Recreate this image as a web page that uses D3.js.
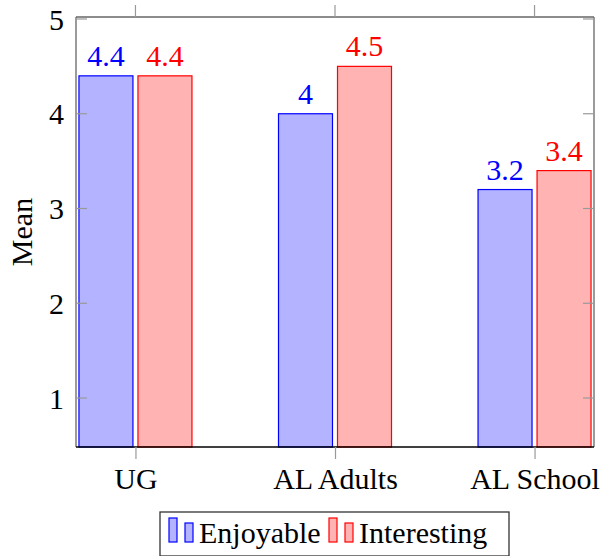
<!DOCTYPE html>
<html><head><meta charset="utf-8">
<script src="https://cdn.jsdelivr.net/npm/d3@7/dist/d3.min.js"></script>
<style>body{margin:0;background:#fff}svg{display:block}svg text{font-family:"Liberation Serif","DejaVu Serif",serif !important}</style>
</head><body>
<script>
const categories = ["UG", "AL Adults", "AL School"];
const seriesNames = ["Enjoyable", "Interesting"];
const enjoyable = [4.4, 4.0, 3.2];
const interesting = [4.4, 4.5, 3.4];
const valueLabels = [["4.4", "4", "3.2"], ["4.4", "4.5", "3.4"]];
const yTicks = [1, 2, 3, 4, 5];

const W = 602, H = 556;
const L = 76, R = 594, T = 17, B = 447;
const colors = [{fill: "#b3b3ff", stroke: "#0000ff"}, {fill: "#ffb3b3", stroke: "#ff0000"}];
const fs = 30;
const FF = "'Liberation Serif','DejaVu Serif',serif";

const svg = d3.select("body").append("svg").attr("width", W).attr("height", H)
  .attr("font-family", FF);

const y = d3.scaleLinear().domain([0.483, 5.021]).range([B, T]);
const x0 = d3.scalePoint().domain(categories).range([L, R]).padding(0.298);
const x1 = d3.scaleBand().domain(seriesNames).range([-56.5, 56.5]).paddingInner(0.085);

const data = [enjoyable, interesting];

seriesNames.forEach((s, si) => {
  const g = svg.append("g");
  g.selectAll("rect").data(categories).join("rect")
    .attr("x", (c) => x0(c) + x1(s))
    .attr("width", x1.bandwidth())
    .attr("y", (c, i) => y(data[si][i]))
    .attr("height", (c, i) => B - y(data[si][i]))
    .attr("fill", colors[si].fill)
    .attr("stroke", colors[si].stroke)
    .attr("stroke-width", 1.2);
  g.selectAll("text").data(categories).join("text")
    .attr("x", (c) => x0(c) + x1(s) + x1.bandwidth() / 2)
    .attr("y", (c, i) => y(data[si][i]) - 10)
    .attr("text-anchor", "middle")
    .attr("font-size", fs)
    .attr("fill", colors[si].stroke)
    .text((c, i) => valueLabels[si][i]);
});

const frameCol = "#666";
svg.append("line").attr("x1", L).attr("x2", L).attr("y1", T).attr("y2", B).attr("stroke", frameCol).attr("stroke-width", 1.3);
svg.append("line").attr("x1", R).attr("x2", R).attr("y1", T).attr("y2", B).attr("stroke", frameCol).attr("stroke-width", 1.3);
svg.append("line").attr("x1", L).attr("x2", R).attr("y1", T).attr("y2", T).attr("stroke", frameCol).attr("stroke-width", 1.3);
svg.append("line").attr("x1", L).attr("x2", R).attr("y1", B).attr("y2", B).attr("stroke", "#000").attr("stroke-width", 1.5);

const yAxis = d3.axisLeft(y).tickValues(yTicks).tickSize(0).tickPadding(12).tickFormat(d3.format("d"));
const gy = svg.append("g").attr("transform", `translate(${L},0)`).call(yAxis);
gy.attr("font-family", FF);
gy.select(".domain").remove();
gy.selectAll("text").attr("font-size", fs).attr("fill", "#000").attr("dy", "0.34em");
svg.append("g").selectAll("line").data(yTicks).join("line")
  .attr("x1", L).attr("x2", L + 11).attr("y1", d => y(d)).attr("y2", d => y(d))
  .attr("stroke", "#999").attr("stroke-width", 1.2);
svg.append("g").selectAll("line").data(yTicks).join("line")
  .attr("x1", R - 11).attr("x2", R).attr("y1", d => y(d)).attr("y2", d => y(d))
  .attr("stroke", "#999").attr("stroke-width", 1.2);

const xAxis = d3.axisBottom(x0).tickSize(12).tickPadding(10);
const gx = svg.append("g").attr("transform", `translate(0,${B})`).call(xAxis);
gx.attr("font-family", FF);
gx.select(".domain").remove();
gx.selectAll(".tick line").attr("stroke", "#999").attr("stroke-width", 1.2);
gx.selectAll("text").attr("font-size", fs).attr("fill", "#000").attr("dy", "0.68em");
svg.append("g").selectAll("line").data(categories).join("line")
  .attr("x1", d => x0(d)).attr("x2", d => x0(d)).attr("y1", T - 12).attr("y2", T)
  .attr("stroke", "#999").attr("stroke-width", 1.2);

svg.append("text").attr("transform", `translate(32,232) rotate(-90)`)
  .attr("text-anchor", "middle").attr("font-size", fs).text("Mean");

const lg = svg.append("g");
lg.append("rect").attr("x", 160).attr("y", 512).attr("width", 349).attr("height", 44)
  .attr("fill", "#fff").attr("stroke", "#333").attr("stroke-width", 1.3);
const legX = [169, 329];
seriesNames.forEach((s, si) => {
  const lx = legX[si];
  lg.append("rect").attr("x", lx).attr("y", 518).attr("width", 8).attr("height", 24)
    .attr("fill", colors[si].fill).attr("stroke", colors[si].stroke).attr("stroke-width", 1.2);
  lg.append("rect").attr("x", lx + 16).attr("y", 523).attr("width", 8).attr("height", 19)
    .attr("fill", colors[si].fill).attr("stroke", colors[si].stroke).attr("stroke-width", 1.2);
  lg.append("text").attr("x", lx + 30).attr("y", 543).attr("font-size", fs).text(s);
});
</script>
</body></html>
